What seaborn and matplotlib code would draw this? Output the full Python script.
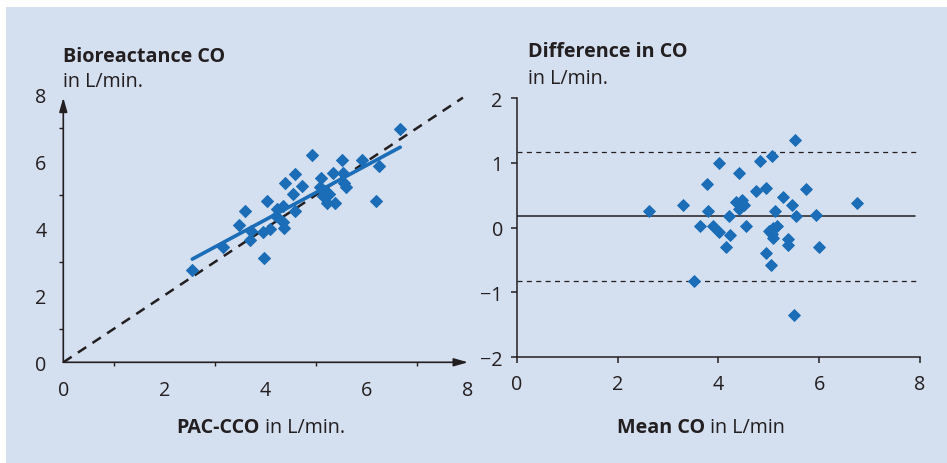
import matplotlib
matplotlib.use("Agg")
import matplotlib.pyplot as plt
from matplotlib.patches import Rectangle
import seaborn as sns
import pandas as pd

# ---- data ----
pac_cco = [2.55, 3.16, 3.48, 3.59, 3.70, 3.72, 3.94, 4.08, 3.97, 4.03, 4.22, 4.35,
           4.34, 4.36, 4.20, 4.38, 4.55, 4.58, 4.59, 4.71, 4.92, 5.09, 5.07, 5.15,
           5.13, 5.22, 5.26, 5.34, 5.38, 5.50, 5.53, 5.55, 5.59, 5.90, 6.24, 6.19,
           6.66, 5.17, 5.21]
bio_co = [2.76, 3.43, 4.11, 4.53, 3.65, 3.93, 3.88, 3.98, 3.10, 4.81, 4.58, 4.67,
          4.20, 4.01, 4.38, 5.34, 5.02, 5.62, 4.53, 5.27, 6.20, 5.49, 5.22, 5.09,
          4.97, 4.76, 5.02, 5.64, 4.76, 6.05, 5.65, 5.35, 5.24, 6.05, 5.85, 4.81,
          6.96, 5.12, 5.02]
fit_x = [2.55, 6.66]
fit_y = [3.08, 6.42]
identity = [0.0, 7.9]

mean_co = [2.62, 3.29, 3.52, 3.64, 3.77, 3.80, 3.90, 4.02, 4.02, 4.15, 4.21, 4.24,
           4.36, 4.40, 4.41, 4.46, 4.50, 4.44, 4.54, 4.75, 4.82, 4.94, 4.94, 5.00,
           5.05, 5.07, 5.06, 5.09, 5.09, 5.13, 5.17, 5.28, 5.39, 5.39, 5.46, 5.50,
           5.52, 5.55, 5.74, 5.93, 5.99, 6.75]
diff_co = [0.26, 0.35, -0.83, 0.03, 0.67, 0.26, 0.03, 1.00, -0.06, -0.30, 0.18, -0.12,
           0.40, 0.85, 0.29, 0.43, 0.35, 0.33, 0.03, 0.56, 1.03, 0.61, -0.39, -0.05,
           -0.57, 1.11, -0.10, -0.16, 0.00, 0.26, 0.03, 0.47, -0.17, -0.26, 0.35, -1.34,
           1.35, 0.18, 0.59, 0.20, -0.30, 0.38]
bias = 0.18
loa_upper = 1.17
loa_lower = -0.82
line_span = [0.0, 7.9]

left_ticks = [0, 2, 4, 6, 8]
right_xticks = [0, 2, 4, 6, 8]
right_yticks = [-2, -1, 0, 1, 2]

# ---- style ----
BG = "#d4dff0"
BLUE = "#1a6db6"
DARK = "#231f20"
W, H = 947, 464
FS = 14.2

sns.set_theme(style="white")
plt.rcParams["font.family"] = ["Open Sans", "DejaVu Sans"]
plt.rcParams["axes.facecolor"] = "none"

fig = plt.figure(figsize=(W / 100, H / 100), dpi=100)
fig.patch.set_facecolor("white")
bg = Rectangle((6 / W, 0), 1, 1 - 8 / H, transform=fig.transFigure,
               facecolor=BG, edgecolor="none", zorder=-10)
fig.add_artist(bg)

def fx(px):
    return px / W

def fy(py):
    return 1 - py / H

# ---- left panel ----
axL = fig.add_axes([fx(63.3), fy(363.3), fx(468) - fx(63.3), fy(95.3) - fy(363.3)])
axL.set_zorder(1)
axL.patch.set_alpha(0)
axL.set_xlim(0, 8)
axL.set_ylim(0, 8)
for s in axL.spines.values():
    s.set_visible(False)

df_sc = pd.DataFrame({"x": pac_cco, "y": bio_co})
sns.lineplot(x=identity, y=identity, ax=axL, color=DARK, lw=1.8,
             linestyle=(0, (4, 3)), zorder=2)
sns.scatterplot(data=df_sc, x="x", y="y", ax=axL, marker="D", s=38,
                color=BLUE, edgecolor=BLUE, linewidth=0.7, zorder=3)
sns.lineplot(x=fit_x, y=fit_y, ax=axL, color=BLUE, lw=2.6, zorder=4)

arrow_kw = dict(arrowstyle="-|>,head_length=0.7,head_width=0.2", color=DARK,
                lw=1.2, shrinkA=0, shrinkB=0)
axL.annotate("", xy=(8.0, 0), xytext=(0, 0), arrowprops=arrow_kw,
             annotation_clip=False)
axL.annotate("", xy=(0, 7.9), xytext=(0, 0), arrowprops=arrow_kw,
             annotation_clip=False)

axL.set_xticks(left_ticks)
axL.set_yticks(left_ticks)
axL.set_xticks(range(0, 8), minor=True)
axL.set_yticks(range(0, 8), minor=True)
axL.tick_params(which="major", length=0, labelsize=FS, labelcolor=DARK)
axL.tick_params(axis="x", which="major", pad=13)
axL.tick_params(axis="y", which="major", pad=12)
axL.tick_params(which="minor", length=3, width=1, color=DARK, direction="out",
                bottom=True, left=True)
axL.set_xlabel("")
axL.set_ylabel("")

# ---- right panel ----
axR = fig.add_axes([fx(516.7), fy(358.3), fx(920) - fx(516.7), fy(99) - fy(358.3)])
axR.set_zorder(1)
axR.patch.set_alpha(0)
axR.set_xlim(0, 8)
axR.set_ylim(-2, 2)
for k in ["top", "right"]:
    axR.spines[k].set_visible(False)
for k in ["left", "bottom"]:
    axR.spines[k].set_color(DARK)
    axR.spines[k].set_linewidth(1.1)

df_ba = pd.DataFrame({"m": mean_co, "d": diff_co})
sns.lineplot(x=line_span, y=[bias, bias], ax=axR, color=DARK, lw=1.1, zorder=2)
sns.lineplot(x=[0.0, 7.95], y=[loa_upper, loa_upper], ax=axR, color=DARK, lw=0.9,
             linestyle=(0, (4, 3.5)), zorder=2)
sns.lineplot(x=[0.0, 7.95], y=[loa_lower, loa_lower], ax=axR, color=DARK, lw=0.9,
             linestyle=(0, (4, 3.5)), zorder=2)
sns.scatterplot(data=df_ba, x="m", y="d", ax=axR, marker="D", s=36,
                color=BLUE, edgecolor=BLUE, linewidth=0.7, zorder=3)

axR.set_xticks(right_xticks)
axR.set_yticks(right_yticks)
axR.tick_params(which="major", length=4, width=1.1, color=DARK, direction="out",
                bottom=True, left=True, labelsize=FS, labelcolor=DARK)
axR.tick_params(axis="x", pad=8)
axR.tick_params(axis="y", pad=6)
axR.set_xlabel("")
axR.set_ylabel("")

# ---- texts ----
fig.text(fx(63.3), fy(62.3), "Bioreactance CO", fontsize=FS, fontweight="bold",
         color=DARK, va="baseline", ha="left")
fig.text(fx(63.3), fy(87.3), "in L/min.", fontsize=FS, color=DARK,
         va="baseline", ha="left")
fig.text(fx(528), fy(57.3), "Difference in CO", fontsize=FS, fontweight="bold",
         color=DARK, va="baseline", ha="left")
fig.text(fx(528), fy(84.3), "in L/min.", fontsize=FS, color=DARK,
         va="baseline", ha="left")

t1 = fig.text(fx(176.7), fy(433.3), "PAC-CCO", fontsize=FS, fontweight="bold",
              color=DARK, va="baseline", ha="left")
fig.texts.append(plt.Annotation(" in L/min.", xy=(1, 0), xycoords=t1,
                                fontsize=FS, color=DARK, va="bottom", ha="left"))
t2 = fig.text(fx(616.7), fy(433.3), "Mean CO", fontsize=FS, fontweight="bold",
              color=DARK, va="baseline", ha="left")
fig.texts.append(plt.Annotation(" in L/min", xy=(1, 0), xycoords=t2,
                                fontsize=FS, color=DARK, va="bottom", ha="left"))
for t in fig.texts:
    t.set_figure(fig)

fig.savefig("out.png", dpi=100, facecolor=fig.get_facecolor())
